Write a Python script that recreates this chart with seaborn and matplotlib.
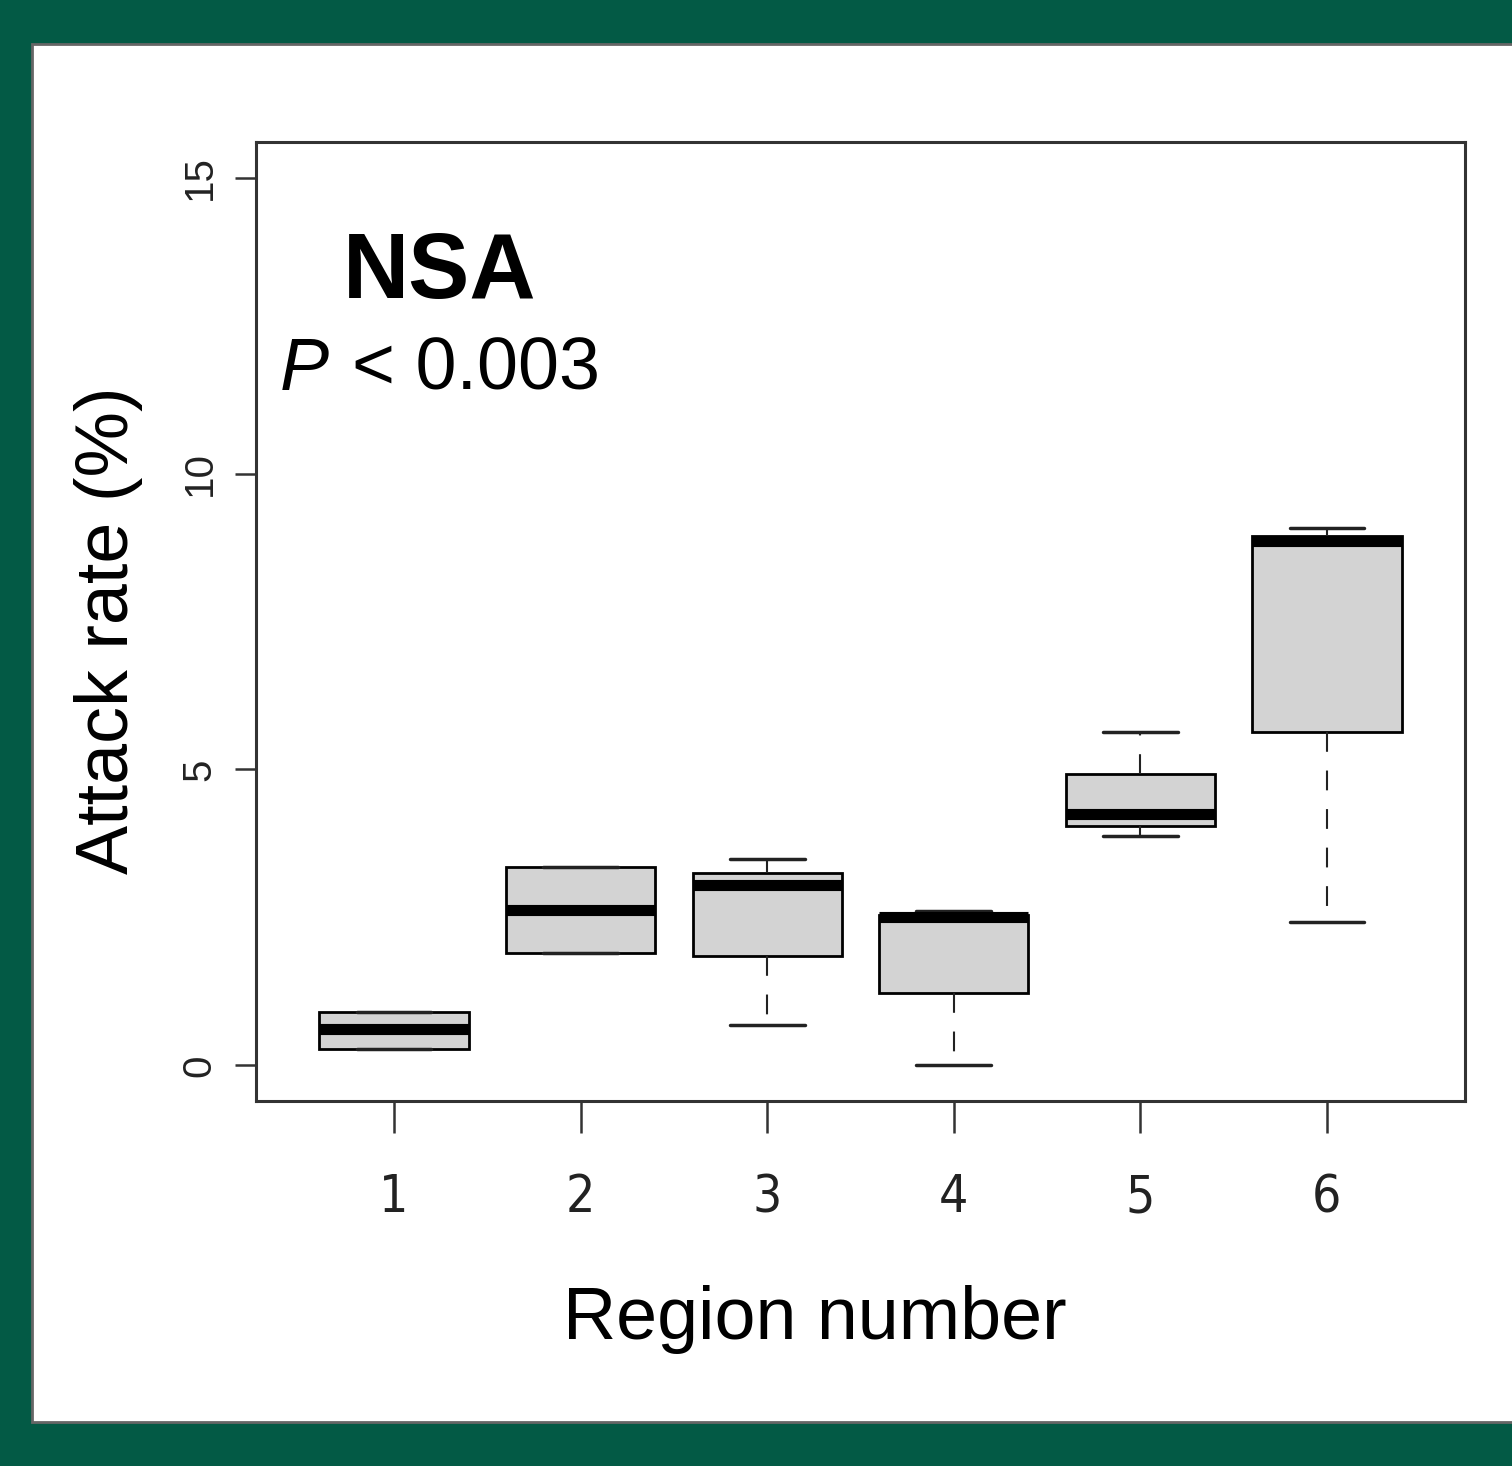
import pandas as pd
import matplotlib
matplotlib.use("Agg")
import matplotlib.pyplot as plt
import matplotlib.patches as mpatches
import seaborn as sns

# valeurs : min, Q1, mediane, Q3, max
region_labels = ["1", "2", "3", "4", "5", "6"]
region_1 = [0.27, 0.27, 0.61, 0.90, 0.90]
region_2 = [1.90, 1.90, 2.63, 3.36, 3.36]
region_3 = [0.69, 1.85, 3.05, 3.25, 3.49]
region_4 = [0.00, 1.22, 2.51, 2.54, 2.61]
region_5 = [3.88, 4.05, 4.24, 4.93, 5.63]
region_6 = [2.42, 5.63, 8.86, 8.95, 9.08]
y_ticks = [0, 5, 10, 15]

all_regions = [region_1, region_2, region_3, region_4, region_5, region_6]
rows = []
for lab, vals in zip(region_labels, all_regions):
    for v in vals:
        rows.append({"region": lab, "rate": v})
df = pd.DataFrame(rows)

sns.set_style("white")
plt.rcParams["font.family"] = ["Liberation Sans", "DejaVu Sans"]

green = "#035a45"
fig = plt.figure(figsize=(15.12, 14.66), dpi=100, facecolor=green)

# panneau blanc
panel = mpatches.Rectangle((32 / 1512, 44 / 1466), 1.05, (1422 - 44) / 1466,
                           transform=fig.transFigure, facecolor="white",
                           edgecolor="#666666", linewidth=2, zorder=-10)
fig.patches.append(panel)

ax = fig.add_axes([256 / 1512, 0.2490, (1465 - 256) / 1512, 0.9031 - 0.2490])
ax.set_facecolor("white")

sns.boxplot(data=df, x="region", y="rate", order=region_labels, ax=ax,
            color="lightgray", linecolor="black", linewidth=2, width=0.8,
            whis=1.5, showfliers=False,
            medianprops=dict(color="black", linewidth=8, solid_capstyle="butt"),
            whiskerprops=dict(color="#222222", linewidth=1.5, linestyle=(0, (9.5, 9))),
            capprops=dict(color="#222222", linewidth=2.5))

ax.set_xlim(-0.74, 5.74)
ax.set_ylim(-0.6, 15.6)
ax.set_yticks(y_ticks)
ax.set_yticklabels([str(t) for t in y_ticks])
ax.set_xlabel("")
ax.set_ylabel("")

for s in ax.spines.values():
    s.set_visible(True)
    s.set_color("#333333")
    s.set_linewidth(2.2)

ax.tick_params(axis="y", left=True, length=15, width=1.8, color="#333333",
               labelsize=29, labelcolor="#222222", pad=12, labelrotation=90)
for lab in ax.get_yticklabels():
    lab.set_va("center")
ax.tick_params(axis="x", bottom=True, length=23, width=1.8, color="#333333",
               labelsize=37, labelcolor="#222222", pad=29)
for lab in ax.get_xticklabels():
    lab.set_family("DejaVu Sans")
    lab.set_stretch("condensed")

# titres d'axes et annotations
fig.text(0.072, 0.5703, "Attack rate (%)", rotation=90, ha="center", va="center",
         fontsize=53, color="black")
fig.text(815 / 1512, 0.0996, "Region number", ha="center", va="center",
         fontsize=53, color="black")
fig.text(440 / 1512, (1466 - 298) / 1466, "NSA", ha="center", va="baseline",
         fontsize=66, fontweight="bold", color="black")
fig.text(280 / 1512, (1466 - 390) / 1466, "P", ha="left", va="baseline",
         fontsize=53, fontstyle="italic", color="black")
fig.text(352 / 1512, (1466 - 390) / 1466, "< 0.003", ha="left", va="baseline",
         fontsize=53, color="black")

plt.savefig("out.png", dpi=100, facecolor=green)
